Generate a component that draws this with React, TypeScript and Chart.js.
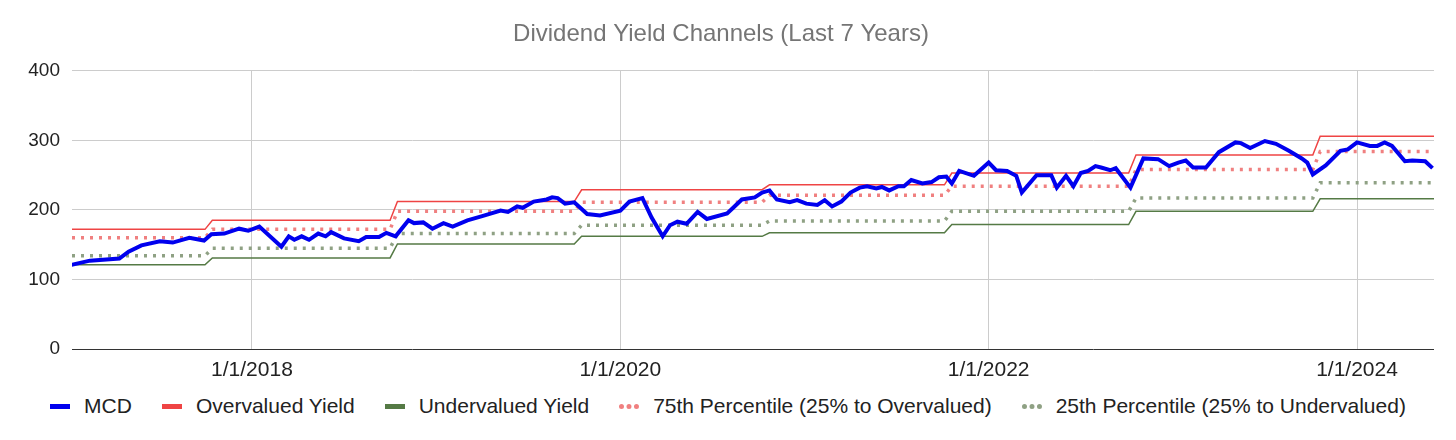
import React, { useEffect, useRef } from "react";
import { Chart, registerables } from "chart.js";
Chart.register(...registerables);

const mcdYears = [2017.02,2017.12,2017.28,2017.33,2017.40,2017.50,2017.57,2017.66,2017.74,2017.78,2017.85,2017.93,2017.98,2018.04,2018.16,2018.20,2018.23,2018.27,2018.31,2018.36,2018.40,2018.43,2018.50,2018.58,2018.62,2018.69,2018.73,2018.78,2018.85,2018.88,2018.93,2018.98,2019.04,2019.09,2019.17,2019.25,2019.35,2019.39,2019.44,2019.47,2019.53,2019.60,2019.63,2019.66,2019.70,2019.75,2019.82,2019.89,2020.00,2020.05,2020.12,2020.17,2020.23,2020.27,2020.31,2020.36,2020.42,2020.47,2020.58,2020.62,2020.66,2020.73,2020.77,2020.81,2020.85,2020.92,2020.96,2021.01,2021.07,2021.11,2021.15,2021.20,2021.25,2021.30,2021.34,2021.39,2021.42,2021.46,2021.51,2021.54,2021.58,2021.64,2021.69,2021.73,2021.77,2021.80,2021.84,2021.92,2021.97,2022.00,2022.04,2022.10,2022.15,2022.18,2022.26,2022.34,2022.37,2022.42,2022.46,2022.50,2022.54,2022.58,2022.61,2022.66,2022.69,2022.77,2022.84,2022.92,2022.98,2023.03,2023.07,2023.11,2023.18,2023.25,2023.34,2023.37,2023.42,2023.50,2023.56,2023.63,2023.70,2023.73,2023.76,2023.83,2023.91,2023.95,2024.00,2024.07,2024.11,2024.15,2024.19,2024.26,2024.30,2024.37,2024.41];
const mcdValues = [121,127,130,140,149,155,153,160,156,165,166,173,170,176,147,162,157,162,157,166,162,168,159,155,161,161,167,162,185,181,182,173,181,176,185,191,199,197,205,203,212,215,218,217,209,211,194,192,199,212,217,189,162,178,183,180,197,187,195,205,215,218,225,228,215,211,214,209,207,214,205,212,225,232,234,231,233,228,234,234,243,238,240,247,248,238,256,249,261,268,257,256,249,225,250,250,232,249,234,253,256,263,261,257,260,232,274,273,263,268,271,261,261,283,297,296,289,299,295,285,274,268,251,264,285,287,297,292,292,297,292,270,271,270,260];

const stepYears = [2017.745, 2018.75, 2019.75, 2020.77, 2021.76, 2022.76, 2023.76];
const overvalued = [172, 185, 212, 229, 236, 253, 279, 306];
const undervalued = [121, 131, 151, 162, 167, 179, 198, 216];
const pct75 = [160, 172, 198, 211, 221, 234, 258, 284];
const pct25 = [134, 145, 166, 178, 184, 198, 217, 239];
const xTicks = [2018, 2020, 2022, 2024];
const X_MIN = 2017.023;
const X_MAX = 2024.418;

function stepPoints(vals: number[]) {
  const pts: { x: number; y: number }[] = [{ x: X_MIN, y: vals[0] }];
  stepYears.forEach((t, i) => {
    pts.push({ x: t, y: vals[i] });
    pts.push({ x: t + 0.04, y: vals[i + 1] });
  });
  pts.push({ x: X_MAX, y: vals[vals.length - 1] });
  return pts;
}

const legendItems = [
  { label: "MCD", color: "#0000ee", dotted: false },
  { label: "Overvalued Yield", color: "#ef4444", dotted: false },
  { label: "Undervalued Yield", color: "#557a45", dotted: false },
  { label: "75th Percentile (25% to Overvalued)", color: "#f08080", dotted: true },
  { label: "25th Percentile (25% to Undervalued)", color: "#8fa184", dotted: true },
];

export default function App() {
  const ref = useRef<HTMLCanvasElement>(null);
  useEffect(() => {
    const chart = new Chart(ref.current!, {
      type: "line",
      data: {
        datasets: [
          { label: "MCD", data: mcdYears.map((x, i) => ({ x, y: mcdValues[i] })), borderColor: "#0000ee", borderWidth: 4, pointRadius: 0, tension: 0, order: 0 },
          { label: "Overvalued Yield", data: stepPoints(overvalued), borderColor: "#ef4444", borderWidth: 1.5, pointRadius: 0, order: 1 },
          { label: "Undervalued Yield", data: stepPoints(undervalued), borderColor: "#557a45", borderWidth: 1.5, pointRadius: 0, order: 1 },
          { label: "75th", data: stepPoints(pct75), borderColor: "#f08080", borderWidth: 3.5, borderDash: [3, 6], pointRadius: 0, order: 2 },
          { label: "25th", data: stepPoints(pct25), borderColor: "#8fa184", borderWidth: 3.5, borderDash: [3, 6], pointRadius: 0, order: 2 },
        ] as any,
      },
      options: {
        animation: false,
        responsive: false,
        layout: { padding: { top: 6, right: 14, left: 0, bottom: 0 } },
        plugins: {
          legend: { display: false },
          tooltip: { enabled: false },
          title: {
            display: true,
            text: "Dividend Yield Channels (Last 7 Years)",
            color: "#757575",
            font: { family: "Arial, Liberation Sans", size: 24, weight: "normal" },
            padding: { top: 6, bottom: 22 },
          },
        },
        scales: {
          x: {
            type: "linear",
            min: X_MIN,
            max: X_MAX,
            afterBuildTicks: (axis: any) => { axis.ticks = xTicks.map((v) => ({ value: v })); },
            afterFit: (axis: any) => { axis.height = 39; },
            ticks: {
              callback: (v: any) => `1/1/${v}`,
              color: "#222",
              font: { family: "Arial, Liberation Sans", size: 21 },
              padding: 9,
              maxRotation: 0,
            },
            grid: { color: "#cccccc", drawTicks: false },
            border: { display: false },
          },
          y: {
            min: 0,
            max: 400,
            afterFit: (axis: any) => { axis.width = 64; },
            ticks: {
              stepSize: 100,
              color: "#222",
              font: { family: "Arial, Liberation Sans", size: 19 },
              padding: 12,
            },
            grid: {
              color: (c: any) => (c.tick && c.tick.value === 0 ? "#333333" : "#cccccc"),
              drawTicks: false,
            },
            border: { display: false },
          },
        },
      } as any,
    });
    return () => chart.destroy();
  }, []);
  return (
    <div style={{ width: 1440, fontFamily: "Arial, Liberation Sans, sans-serif" }}>
      <canvas ref={ref} width={1440} height={380} style={{ display: "block" }} />
      <div style={{ display: "flex", justifyContent: "center", alignItems: "center", height: 36, gap: 30, fontSize: 21, color: "#222" }}>
        {legendItems.map((it) => (
          <div key={it.label} style={{ display: "flex", alignItems: "center" }}>
            <span
              style={{
                display: "inline-block",
                width: 20,
                height: it.dotted ? 0 : 5,
                background: it.dotted ? "transparent" : it.color,
                borderTop: it.dotted ? `5px dotted ${it.color}` : "none",
                marginRight: 14,
              }}
            />
            {it.label}
          </div>
        ))}
      </div>
    </div>
  );
}
